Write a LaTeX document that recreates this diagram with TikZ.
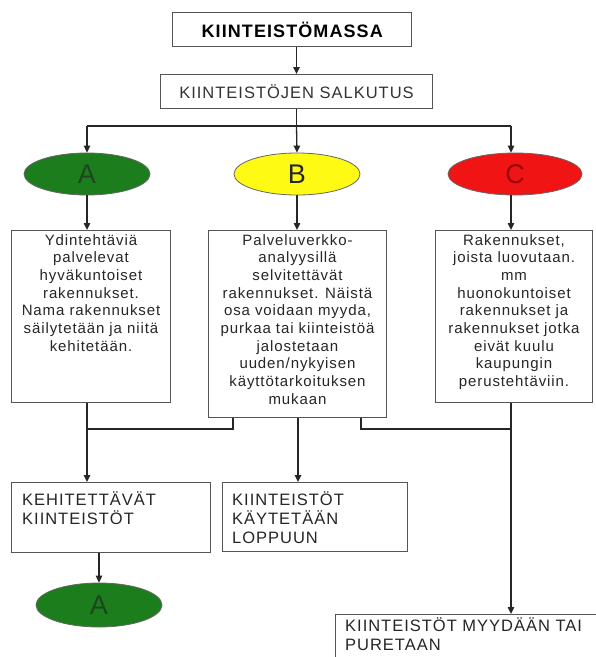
\documentclass[tikz,border=0pt]{standalone}
\usepackage{fontspec}
\setmainfont[LetterSpace=6]{Liberation Sans}
\usetikzlibrary{shapes.geometric,arrows.meta}
\definecolor{boxline}{RGB}{85,85,85}
\definecolor{agreen}{RGB}{28,125,28}
\definecolor{agreentext}{RGB}{30,70,30}
\definecolor{byellow}{RGB}{255,250,20}
\definecolor{cred}{RGB}{240,20,20}
\definecolor{credtext}{RGB}{150,10,10}
\tikzset{
  box/.style={draw=boxline, line width=1pt, rectangle, inner sep=0pt, anchor=north west},
  oval/.style={ellipse, draw=black!60, line width=0.8pt, inner sep=0pt, minimum height=42pt, font={\fontsize{27}{30}\selectfont}},
  boxtext/.style={anchor=north, align=center, inner sep=0pt, text=black!85, font={\fontsize{15}{17.7}\selectfont}},
  lowtext/.style={anchor=north west, align=left, inner sep=0pt, text=black!85, font={\fontsize{16.5}{19}\selectfont}},
  line/.style={draw=black!85, line width=1.3pt},
  arr/.style={line, -{Triangle[width=6.5pt,length=7pt]}}
}
\begin{document}
\begin{tikzpicture}[x=1pt,y=-1pt]
\useasboundingbox (0,0) rectangle (596,657);
\clip (0,0) rectangle (596,657);
\fill[white] (0,0) rectangle (596,657);

% top boxes
\node[box, line width=1.4pt, minimum width=239pt, minimum height=34pt] (top) at (172,12) {};
\node[inner sep=0pt, font={\fontsize{18}{20}\selectfont\bfseries}] (topT) at (top.center) {KIINTEISTÖMASSA};
\node[box, minimum width=272pt, minimum height=34pt] (sal) at (160,74) {};
\node[inner sep=0pt, font={\fontsize{16.5}{19}\selectfont}, text=black!80] (salT) at (sal.center) {KIINTEISTÖJEN SALKUTUS};

% ellipses
\node[oval, fill=agreen, text=agreentext, minimum width=126pt] (eA) at (87,174) {A};
\node[oval, fill=byellow, text=black!85, minimum width=126pt] (eB) at (297,174) {B};
\node[oval, fill=cred, text=credtext, minimum width=134pt] (eC) at (515,174) {C};

% middle boxes
\node[box, minimum width=159pt, minimum height=172pt] (bA) at (11,230) {};
\node[boxtext] (tA) at ([yshift=-4pt]bA.north) {Ydintehtäviä\\palvelevat\\hyväkuntoiset\\rakennukset.\\Nama rakennukset\\säilytetään ja niitä\\kehitetään.};
\node[box, minimum width=178pt, minimum height=187pt] (bB) at (208,230) {};
\node[boxtext] (tB) at ([yshift=-4pt]bB.north) {Palveluverkko-\\analyysillä\\selvitettävät\\rakennukset. Näistä\\osa voidaan myyda,\\purkaa tai kiinteistöä\\jalostetaan\\uuden/nykyisen\\käyttötarkoituksen\\mukaan};
\node[box, minimum width=157pt, minimum height=172pt] (bC) at (435,230) {};
\node[boxtext] (tC) at ([yshift=-4pt]bC.north) {Rakennukset,\\joista luovutaan.\\mm\\huonokuntoiset\\rakennukset ja\\rakennukset jotka\\eivät kuulu\\kaupungin\\perustehtäviin.};

% lower boxes
\node[box, minimum width=199pt, minimum height=70pt] (kA) at (11,482) {};
\node[lowtext] (kAT) at ([xshift=11pt,yshift=-9pt]kA.north west) {KEHITETTÄVÄT\\KIINTEISTÖT};
\node[box, minimum width=185pt, minimum height=69pt] (kB) at (222,482) {};
\node[lowtext] (kBT) at ([xshift=10pt,yshift=-9pt]kB.north west) {KIINTEISTÖT\\KÄYTETÄÄN\\LOPPUUN};
\node[box, minimum width=300pt, minimum height=80pt] (kC) at (335,614) {};
\node[lowtext] (kCT) at ([xshift=10pt,yshift=-3pt]kC.north west) {KIINTEISTÖT MYYDÄÄN TAI\\PURETAAN};

\node[oval, fill=agreen, text=agreentext, minimum width=126pt, minimum height=44pt] (eA2) at (99,605) {A};

% helper coordinates
\coordinate (jL) at (87,126);
\coordinate (jR) at (511,126);
\coordinate (xa) at (87,0);
\coordinate (xb1) at (233,0);
\coordinate (xb2) at (298,0);
\coordinate (xb3) at (361,0);
\coordinate (xc) at (511,0);
\coordinate (yh) at (0,429);

% connectors
\draw[arr] (top.south -| sal.center) -- (sal.north);
\draw[line] (sal.south) -- (sal.south |- jL);
\draw[line] (jL) -- (jR);
\draw[arr] (jL) -- (eA.north);
\draw[arr] (sal.south |- jL) -- (eB.north);
\draw[arr] (jR) -- (jR |- eC.north);
\draw[arr] (eA.south) -- (eA.south |- bA.north);
\draw[arr] (eB.south) -- (eB.south |- bB.north);
\draw[arr] (xc |- eC.south) -- (xc |- bC.north);

\draw[arr] (xa |- bA.south) -- (xa |- kA.north);
\draw[line] (xb1 |- bB.south) -- (xb1 |- yh) -- (xa |- yh);
\draw[arr] (xb2 |- bB.south) -- (xb2 |- kB.north);
\draw[line] (xb3 |- bB.south) -- (xb3 |- yh) -- (xc |- yh);
\draw[arr] (xc |- bC.south) -- (xc |- kC.north);
\draw[arr] (eA2 |- kA.south) -- (eA2.north);
\end{tikzpicture}
\end{document}
